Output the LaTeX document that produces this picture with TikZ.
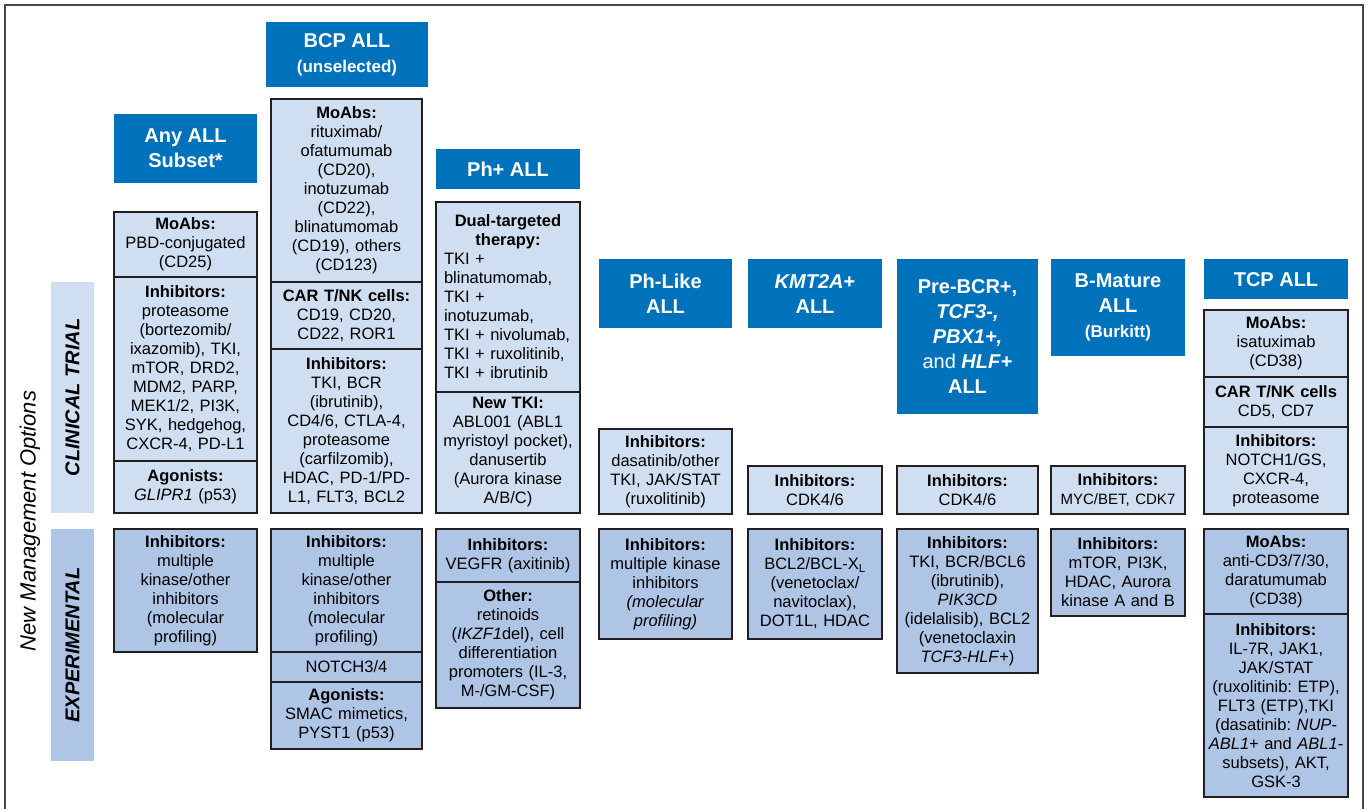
\documentclass[tikz,border=0pt]{standalone}
\usepackage{fontspec}
\setmainfont{Liberation Sans}
\usetikzlibrary{positioning}
\definecolor{hdrblue}{RGB}{0,114,188}
\definecolor{ctfill}{RGB}{207,222,240}
\definecolor{expfill}{RGB}{174,197,230}
\definecolor{boxline}{RGB}{35,31,32}
\definecolor{framegray}{RGB}{70,70,70}
\newcommand{\boxfont}{\fontsize{16.5}{19}\selectfont\frenchspacing}
\newcommand{\hdrfont}{\fontsize{20}{25}\selectfont\bfseries}
\newcommand{\subhdr}{\fontsize{17}{22}\selectfont}

\begin{document}
\begin{tikzpicture}[x=1pt, y=-1pt,
    hdr/.style={fill=hdrblue, text=white, font=\hdrfont, align=center, inner sep=0pt, anchor=north},
    ctbox/.style={draw=boxline, line width=1.2pt, fill=ctfill, align=center, anchor=north,
        font=\boxfont, inner xsep=0pt, inner ysep=2pt, outer sep=0pt},
    expbox/.style={ctbox, fill=expfill},
    colw/.style={text width=#1pt},
    band/.style={rotate=90, inner sep=0pt, minimum height=43pt, font=\fontsize{20}{24}\selectfont\bfseries\itshape}]
    \useasboundingbox (0,0) rectangle (1369,809);

    % Frame
    \draw[framegray, line width=1.4pt] (5,809) -- (5,5) -- (1363,5) -- (1363,809);

    % Side labels
    \node[rotate=90, font=\fontsize{22}{26}\selectfont\itshape] (nmo) at (30,521) {New Management Options};
    \node[band, fill=ctfill, minimum width=231pt] (ctband) at (72.5,397.5) {CLINICAL TRIAL};
    \node[band, fill=expfill, minimum width=232pt] (expband) at (72.5,645) {EXPERIMENTAL};

    % Headers
    \node[hdr, minimum width=143pt, minimum height=69pt] (anyH) at (185.5,114) {Any ALL\\Subset*};
    \node[hdr, minimum width=162pt, minimum height=65pt] (bcpH) at (347,22) {BCP ALL\\{\subhdr(unselected)}};
    \node[hdr, minimum width=144pt, minimum height=40pt] (phpH) at (508,149) {Ph+ ALL};
    \node[hdr, minimum width=133pt, minimum height=69pt] (phlH) at (665.5,259) {Ph-Like\\ALL};
    \node[hdr, minimum width=134pt, minimum height=69pt] (kmtH) at (815,259) {\textit{KMT2A}+\\ALL};
    \node[hdr, minimum width=141pt, minimum height=155pt] (preH) at (967.5,259)
        {Pre-BCR+,\\\textit{TCF3-,}\\\textit{PBX1+,}\\{\mdseries and} \textit{HLF}+\\ALL};
    \node[hdr, minimum width=134pt, minimum height=97pt] (bmH) at (1118,259) {B-Mature\\ALL\\{\subhdr(Burkitt)}};
    \node[hdr, minimum width=144pt, minimum height=40pt] (tcpH) at (1276,259) {TCP ALL};

    % Any ALL subset
    \node[ctbox, colw=143, minimum height=65pt] (anyMo) at (185.5,212)
        {\textbf{MoAbs:}\\PBD-conjugated\\(CD25)};
    \node[ctbox, colw=143, minimum height=184pt, below=0pt of anyMo] (anyInh)
        {\textbf{Inhibitors:}\\proteasome\\(bortezomib/\\ixazomib), TKI,\\mTOR, DRD2,\\MDM2, PARP,\\MEK1/2, PI3K,\\SYK, hedgehog,\\CXCR-4, PD-L1};
    \node[ctbox, colw=143, minimum height=52pt, below=0pt of anyInh] (anyAg)
        {\textbf{Agonists:}\\\textit{GLIPR1} (p53)};
    \node[expbox, colw=143, minimum height=123pt] (anyExp) at (185.5,529)
        {\textbf{Inhibitors:}\\multiple\\kinase/other\\inhibitors\\(molecular\\profiling)};

    % BCP ALL
    \node[ctbox, colw=151, minimum height=183pt] (bcpMo) at (346.5,99)
        {\textbf{MoAbs:}\\rituximab/\\ofatumumab\\(CD20),\\inotuzumab\\(CD22),\\blinatumomab\\(CD19), others\\(CD123)};
    \node[ctbox, colw=151, minimum height=67pt, below=0pt of bcpMo] (bcpCar)
        {\textbf{CAR T/NK cells:}\\CD19, CD20,\\CD22, ROR1};
    \node[ctbox, colw=151, minimum height=164pt, below=0pt of bcpCar] (bcpInh)
        {\textbf{Inhibitors:}\\TKI, BCR\\(ibrutinib),\\CD4/6, CTLA-4,\\proteasome\\(carfilzomib),\\HDAC, PD-1/PD-\\L1, FLT3, BCL2};
    \node[expbox, colw=151, minimum height=123pt] (bcpExp) at (346.5,529)
        {\textbf{Inhibitors:}\\multiple\\kinase/other\\inhibitors\\(molecular\\profiling)};
    \node[expbox, colw=151, minimum height=30pt, below=0pt of bcpExp] (bcpNotch) {NOTCH3/4};
    \node[expbox, colw=151, minimum height=67pt, below=0pt of bcpNotch] (bcpAg)
        {\textbf{Agonists:}\\SMAC mimetics,\\PYST1 (p53)};

    % Ph+ ALL
    \node[ctbox, colw=144, minimum height=190pt] (phpDual) at (508,202)
        {\textbf{Dual-targeted\\therapy:}\par
         {\raggedright\leftskip=8pt TKI +\\blinatumomab,\\TKI +\\inotuzumab,\\TKI + nivolumab,\\TKI + ruxolitinib,\\TKI + ibrutinib\par}};
    \node[ctbox, colw=144, minimum height=121pt, below=0pt of phpDual] (phpTki)
        {\textbf{New TKI:}\\ABL001 (ABL1\\myristoyl pocket),\\danusertib\\(Aurora kinase\\A/B/C)};
    \node[expbox, colw=144, minimum height=53pt] (phpExp) at (508,529)
        {\textbf{Inhibitors:}\\VEGFR (axitinib)};
    \node[expbox, colw=144, minimum height=126pt, below=0pt of phpExp] (phpOth)
        {\textbf{Other:}\\retinoids\\(\textit{IKZF1}del), cell\\differentiation\\promoters (IL-3,\\M-/GM-CSF)};

    % Ph-like ALL
    \node[ctbox, colw=133, minimum height=85pt] (phlInh) at (665.5,429)
        {\textbf{Inhibitors:}\\dasatinib/other\\TKI, JAK/STAT\\(ruxolitinib)};
    \node[expbox, colw=133, minimum height=110pt] (phlExp) at (665.5,529)
        {\textbf{Inhibitors:}\\multiple kinase\\inhibitors\\\textit{(molecular}\\\textit{profiling)}};

    % KMT2A+ ALL
    \node[ctbox, colw=134, minimum height=48pt] (kmtInh) at (815,466)
        {\textbf{Inhibitors:}\\CDK4/6};
    \node[expbox, colw=134, minimum height=110pt] (kmtExp) at (815,529)
        {\textbf{Inhibitors:}\\BCL2/BCL-X\textsubscript{L}\\(venetoclax/\\navitoclax),\\DOT1L, HDAC};

    % Pre-BCR+ ALL
    \node[ctbox, colw=141, minimum height=48pt] (preInh) at (967.5,466)
        {\textbf{Inhibitors:}\\CDK4/6};
    \node[expbox, colw=141, minimum height=144pt] (preExp) at (967.5,529)
        {\textbf{Inhibitors:}\\TKI, BCR/BCL6\\(ibrutinib),\\\textit{PIK3CD}\\(idelalisib), BCL2\\(venetoclaxin\\\textit{TCF3-HLF}+)};

    % B-mature ALL
    \node[ctbox, colw=134, minimum height=48pt] (bmInh) at (1118,466)
        {\textbf{Inhibitors:}\\{\fontsize{15}{19}\selectfont MYC/BET, CDK7}};
    \node[expbox, colw=134, minimum height=87pt] (bmExp) at (1118,529)
        {\textbf{Inhibitors:}\\mTOR, PI3K,\\HDAC, Aurora\\kinase A and B};

    % TCP ALL
    \node[ctbox, colw=144, minimum height=67pt] (tcpMo) at (1276,310)
        {\textbf{MoAbs:}\\isatuximab\\(CD38)};
    \node[ctbox, colw=144, minimum height=50pt, below=0pt of tcpMo] (tcpCar)
        {\textbf{CAR T/NK cells}\\CD5, CD7};
    \node[ctbox, colw=144, minimum height=87pt, below=0pt of tcpCar] (tcpInh)
        {\textbf{Inhibitors:}\\NOTCH1/GS,\\CXCR-4,\\proteasome};
    \node[expbox, colw=144, minimum height=85pt] (tcpExp) at (1276,529)
        {\textbf{MoAbs:}\\anti-CD3/7/30,\\daratumumab\\(CD38)};
    \node[expbox, colw=144, minimum height=183pt, below=0pt of tcpExp] (tcpExpInh)
        {\textbf{Inhibitors:}\\IL-7R, JAK1,\\JAK/STAT\\(ruxolitinib: ETP),\\FLT3 (ETP),TKI\\(dasatinib: \textit{NUP-}\\\textit{ABL1}+ and \textit{ABL1-}\\subsets), AKT,\\GSK-3};
\end{tikzpicture}
\end{document}
